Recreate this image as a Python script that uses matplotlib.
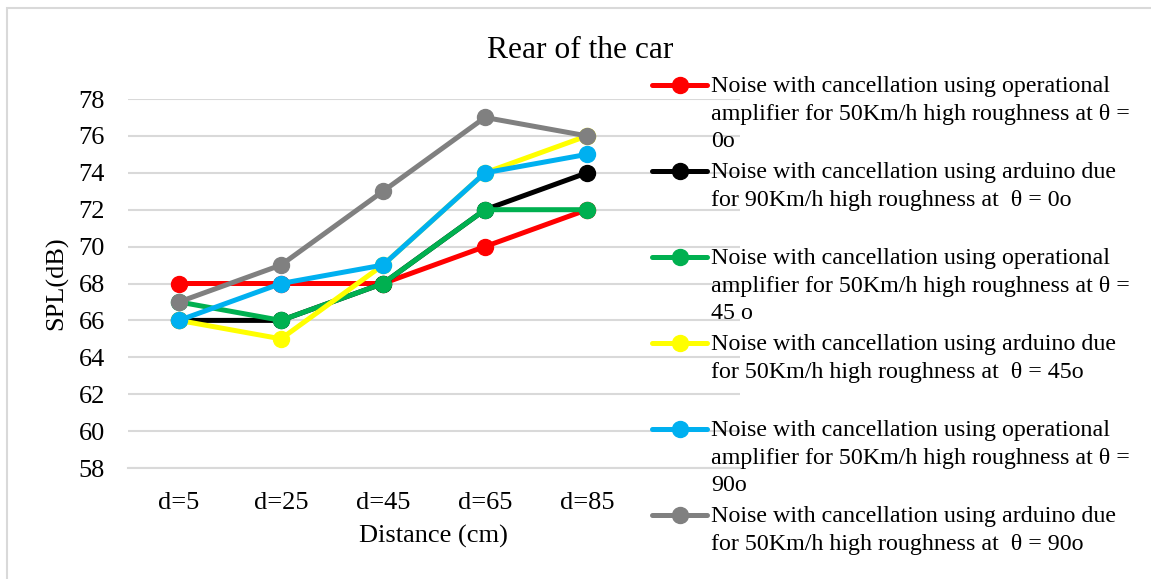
import matplotlib.pyplot as plt
from matplotlib.lines import Line2D
from matplotlib.patches import Rectangle

# datos
categorias = ['d=5', 'd=25', 'd=45', 'd=65', 'd=85']
op_50_0 = [68, 68, 68, 70, 72]
ard_90_0 = [66, 66, 68, 72, 74]
op_50_45 = [67, 66, 68, 72, 72]
ard_50_45 = [66, 65, 69, 74, 76]
op_50_90 = [66, 68, 69, 74, 75]
ard_50_90 = [67, 69, 73, 77, 76]

series = [op_50_0, ard_90_0, op_50_45, ard_50_45, op_50_90, ard_50_90]
colores = ['#ff0000', '#000000', '#00b050', '#ffff00', '#00b0f0', '#808080']
etiquetas = [
    'Noise with cancellation using operational\namplifier for 50Km/h high roughness at \u03b8 =\n0o',
    'Noise with cancellation using arduino due\nfor 90Km/h high roughness at  \u03b8 = 0o',
    'Noise with cancellation using operational\namplifier for 50Km/h high roughness at \u03b8 =\n45 o',
    'Noise with cancellation using arduino due\nfor 50Km/h high roughness at  \u03b8 = 45o',
    'Noise with cancellation using operational\namplifier for 50Km/h high roughness at \u03b8 =\n90o',
    'Noise with cancellation using arduino due\nfor 50Km/h high roughness at  \u03b8 = 90o',
]

plt.rcParams['font.family'] = ['Liberation Serif', 'DejaVu Serif']

W, H = 1151, 579
fig = plt.figure(figsize=(W / 100, H / 100), dpi=100)
ax = fig.add_axes([128 / W, 1 - 468 / H, (740 - 128) / W, (468 - 99) / H])

x = list(range(len(categorias)))
for datos, c in zip(series, colores):
    ax.plot(x, datos, color=c, linewidth=3.6, marker='o', markersize=11.5,
            solid_capstyle='round', zorder=3)

ax.set_xlim(-0.5, 5.5)
ax.set_ylim(58, 78)
ax.set_yticks(range(58, 79, 2))
ax.set_xticks(x)
ax.set_xticklabels(categorias)
ax.grid(True, axis='y', color='#d9d9d9', linewidth=1.5)
ax.set_axisbelow(True)
for s in ['top', 'right', 'left']:
    ax.spines[s].set_visible(False)
ax.spines['bottom'].set_color('#d9d9d9')
ax.spines['bottom'].set_linewidth(1.5)
ax.tick_params(axis='both', length=0, labelsize=19)
ax.tick_params(axis='y', pad=16.5)
ax.tick_params(axis='x', pad=17)

fig.text(580 / W, 1 - 50 / H, 'Rear of the car', fontsize=22.7, ha='center', va='center')
fig.text(57 / W, 1 - 283 / H, 'SPL(dB)', fontsize=19, rotation=90, ha='center', va='center')
fig.text(433 / W, 1 - 536 / H, 'Distance (cm)', fontsize=19, ha='center', va='center')

# leyenda manual (entradas alineadas arriba)
for i, (c, lab) in enumerate(zip(colores, etiquetas)):
    yc = 1 - (85 + 86 * i) / H
    fig.add_artist(Line2D([652 / W, 707 / W], [yc, yc], color=c, linewidth=3.6,
                          solid_capstyle='round'))
    fig.add_artist(Line2D([680 / W], [yc], color=c, marker='o', markersize=11.5))
    fig.text(711 / W, yc + 9 / H, lab, fontsize=17.3, ha='left', va='top',
             linespacing=1.41)

fig.add_artist(Rectangle((7 / W, -0.05), 1.1, 1 - 8 / H + 0.05, transform=fig.transFigure,
                         fill=False, edgecolor='#d9d9d9', linewidth=1.5))

fig.savefig('out.png', dpi=100)
